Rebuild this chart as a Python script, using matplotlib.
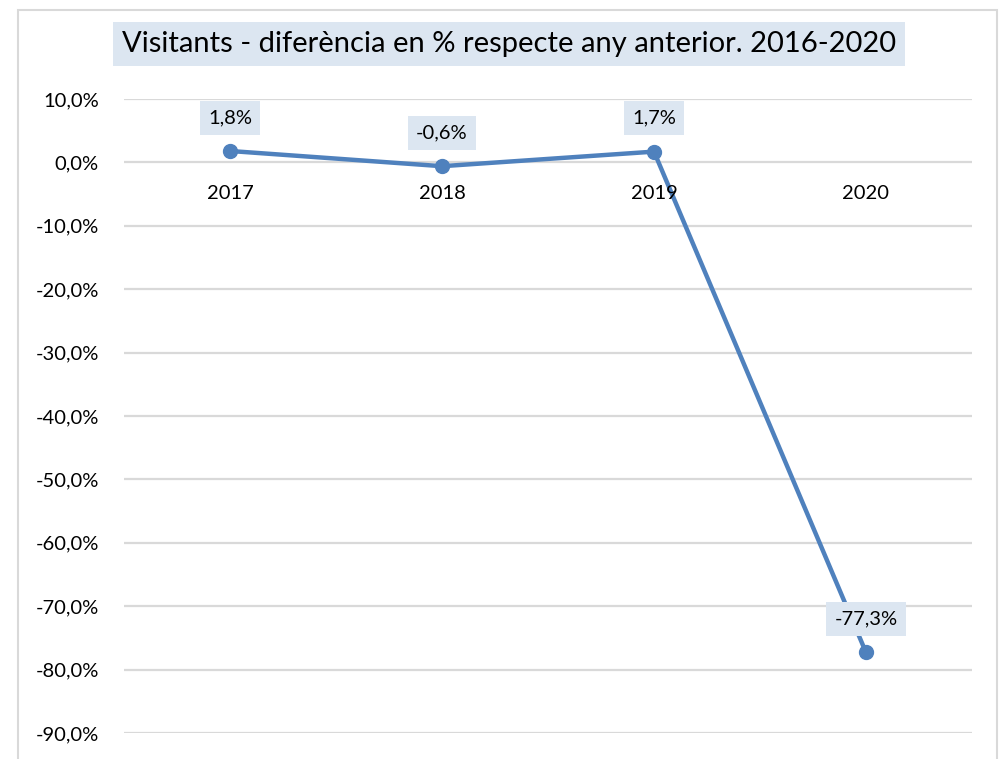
import matplotlib.pyplot as plt
from matplotlib.patches import Rectangle

plt.rcParams['font.family'] = ['Lato', 'DejaVu Sans']

years = ['2017', '2018', '2019', '2020']
values = [1.8, -0.6, 1.7, -77.3]
labels = ['1,8%', '-0,6%', '1,7%', '-77,3%']
y_ticks = [10, 0, -10, -20, -30, -40, -50, -60, -70, -80, -90]

W, H = 1003, 759
fig = plt.figure(figsize=(W / 100, H / 100), dpi=100)
ax = fig.add_axes([124 / W, 1 - 733 / H, (972 - 124) / W, (733 - 99) / H])

# chart border
fig.patches.append(Rectangle((18 / W, -0.05), (997 - 18) / W, 1.05 - 10 / H,
                             transform=fig.transFigure, fill=False,
                             edgecolor='#D9D9D9', linewidth=1.5))

x = list(range(len(years)))
ax.plot(x, values, color='#4F81BD', linewidth=3.2, marker='o',
        markersize=10, solid_capstyle='round', zorder=3)

ax.set_xlim(-0.5, len(years) - 0.5)
ax.set_ylim(-90, 10)
ax.set_yticks(y_ticks)
ax.set_yticklabels([f'{t:.1f}%'.replace('.', ',') for t in y_ticks], fontsize=14.5)
ax.tick_params(axis='y', length=0, pad=18)
ax.set_xticks([])
ax.grid(True, axis='y', color='#D9D9D9', linewidth=1.6)
ax.set_axisbelow(True)
for s in ax.spines.values():
    s.set_visible(False)

# category labels sit next to the zero line
for xi, yr in zip(x, years):
    ax.annotate(yr, (xi, 0), xytext=(0, -22.5), textcoords='offset points',
                ha='center', va='center', fontsize=14.5)

# data labels
for xi, v, lab in zip(x, values, labels):
    ax.annotate(lab, (xi, v), xytext=(0, 24), textcoords='offset points',
                ha='center', va='center', fontsize=14.5,
                bbox=dict(boxstyle='square,pad=0.42', facecolor='#DCE6F1',
                          edgecolor='none'))

fig.text(509 / W, 1 - 44 / H, 'Visitants - diferència en % respecte any anterior. 2016-2020',
         ha='center', va='center', fontsize=21,
         bbox=dict(boxstyle='square,pad=0.3', facecolor='#DCE6F1', edgecolor='none'))

plt.savefig('out.png', dpi=100)
